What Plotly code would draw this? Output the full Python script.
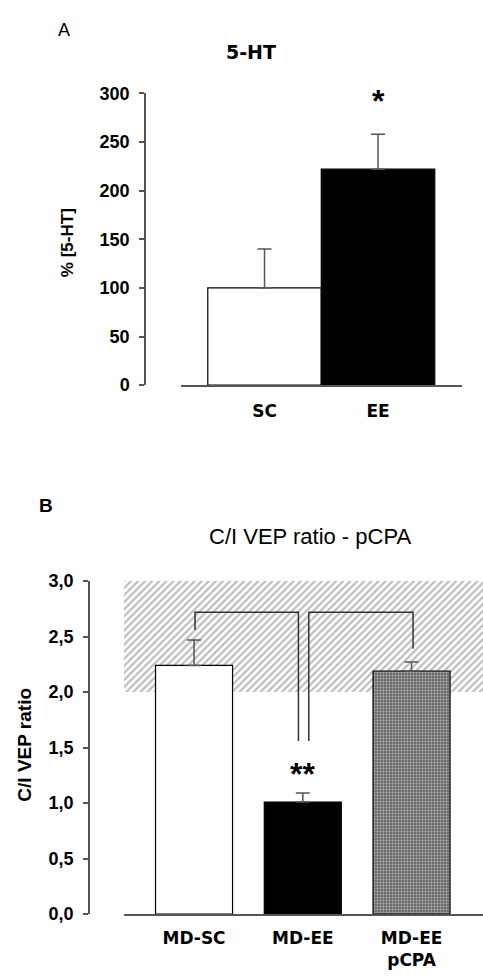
import plotly.graph_objects as go

W, H = 483, 978

# ---- data ----
cats_a = ["SC", "EE"]
vals_a = [100, 222]
errs_a = [40, 36]
yticks_a = [0, 50, 100, 150, 200, 250, 300]
ytext_a = ["0", "50", "100", "150", "200", "250", "300"]

cats_b = ["MD-SC", "MD-EE", "MD-EE<br>pCPA"]
vals_b = [2.24, 1.01, 2.19]
errs_b = [0.23, 0.08, 0.08]
band_b = [2.0, 3.0]
yticks_b = [0, 0.5, 1.0, 1.5, 2.0, 2.5, 3.0]
ytext_b = ["0,0", "0,5", "1,0", "1,5", "2,0", "2,5", "3,0"]


def px(x):
    return x / W


def py(y):
    return 1 - y / H


TICKF = dict(family="Liberation Sans, Arial", size=18, color="black", weight="bold")
CATF = dict(family="DejaVu Sans", size=17, color="black", weight="bold")
AX = "#555555"

xr_a = [-0.736, 1.74]
xr_b = [-0.644, 2.657]

fig = go.Figure()

# Panel A bars
fig.add_trace(go.Bar(
    x=list(range(len(cats_a))), y=vals_a, width=1.0,
    marker=dict(color=["white", "black"], line=dict(color="black", width=1.2)),
    error_y=dict(type="data", symmetric=False, array=errs_a, arrayminus=[0] * len(errs_a),
                 color=AX, thickness=1.5, width=7),
    xaxis="x", yaxis="y", hoverinfo="skip",
))

# Panel B hatched normal range band
fig.add_trace(go.Bar(
    x=[(xr_b[0] + xr_b[1]) / 2], y=[band_b[1] - band_b[0]], base=[band_b[0]],
    width=[xr_b[1] - xr_b[0]],
    marker=dict(color="white", line=dict(width=0),
                pattern=dict(shape="/", fgcolor="#7a7a7a", bgcolor="white", size=5, solidity=0.45)),
    xaxis="x2", yaxis="y2", hoverinfo="skip",
))

# Panel B bars
fig.add_trace(go.Bar(
    x=list(range(len(cats_b))), y=vals_b, width=0.708,
    marker=dict(color=["white", "black", "#555555"], line=dict(color="black", width=1.2),
                pattern=dict(shape=["", "", "."], fgcolor="#1a1a1a",
                             bgcolor=["white", "black", "#707070"], size=3, solidity=0.5)),
    error_y=dict(type="data", symmetric=False, array=errs_b, arrayminus=[0] * len(errs_b),
                 color=AX, thickness=1.5, width=7),
    xaxis="x2", yaxis="y2", hoverinfo="skip",
))

axis_common = dict(showgrid=False, zeroline=False, showline=True, linecolor=AX, linewidth=1.5)

fig.update_layout(
    width=W, height=H, margin=dict(l=0, r=0, t=0, b=0),
    paper_bgcolor="white", plot_bgcolor="rgba(0,0,0,0)",
    showlegend=False, barmode="overlay",
    xaxis=dict(domain=[px(181), px(462)], range=xr_a, anchor="y",
               tickvals=list(range(len(cats_a))), ticktext=cats_a, ticks="",
               tickfont=CATF, ticklabelstandoff=10, **axis_common),
    yaxis=dict(domain=[py(383), py(85)], range=[0, 300], anchor="free", position=px(145),
               tickvals=yticks_a, ticktext=ytext_a, ticks="outside", ticklen=5,
               tickcolor=AX, tickwidth=1.5, tickfont=TICKF, ticklabelstandoff=6, **axis_common),
    xaxis2=dict(domain=[px(124), 1.0], range=xr_b, anchor="y2",
                tickvals=list(range(len(cats_b))), ticktext=cats_b, ticks="",
                tickfont=CATF, ticklabelstandoff=8, **axis_common),
    yaxis2=dict(domain=[py(923), py(583)], range=[0, 3], anchor="free", position=px(89),
                tickvals=yticks_b, ticktext=ytext_b, ticks="outside", ticklen=5,
                tickcolor=AX, tickwidth=1.5, tickfont=TICKF, ticklabelstandoff=6, **axis_common),
)

# significance brackets (panel B)
fig.add_shape(type="path", xref="x2", yref="y2",
              path="M 0.009,2.56 V 2.72 H 0.96 V 1.56", line=dict(color="#333333", width=1.5))
fig.add_shape(type="path", xref="x2", yref="y2",
              path="M 1.055,1.56 V 2.72 H 2.014 V 2.39", line=dict(color="#333333", width=1.5))

C = dict(showarrow=False, xanchor="center", yanchor="middle")
ann = []
ann.append(dict(text="A", x=px(64), y=py(20), xref="paper", yref="paper",
                font=dict(family="Liberation Sans, Arial", size=18, color="black"), **C))
ann.append(dict(text="5-HT", x=px(251), y=py(43), xref="paper", yref="paper",
                font=dict(family="DejaVu Sans", size=19, color="black", weight="bold"), **C))
ann.append(dict(text="% [5-HT]", x=px(67), y=py(238), xref="paper", yref="paper",
                textangle=-90, font=dict(family="Liberation Sans, Arial", size=17, color="black", weight="bold"), **C))
ann.append(dict(text="*", x=1, y=292, xref="x", yref="y",
                font=dict(family="Liberation Sans, Arial", size=32, color="black", weight="bold"), **C))
ann.append(dict(text="B", x=px(46), y=py(506), xref="paper", yref="paper",
                font=dict(family="Liberation Sans, Arial", size=19, color="black", weight="bold"), **C))
ann.append(dict(text="C/I VEP ratio - pCPA", x=px(309.5), y=py(538), xref="paper", yref="paper",
                font=dict(family="Liberation Sans, Arial", size=22, color="black"), **C))
ann.append(dict(text="C/I VEP ratio", x=px(25), y=py(750), xref="paper", yref="paper",
                textangle=-90, font=dict(family="Liberation Sans, Arial", size=19, color="black", weight="bold"), **C))
ann.append(dict(text="**", x=0.993, y=1.26, xref="x2", yref="y2",
                font=dict(family="Liberation Sans, Arial", size=32, color="black", weight="bold"), **C))
fig.update_layout(annotations=ann)

fig.write_html("out.html")
